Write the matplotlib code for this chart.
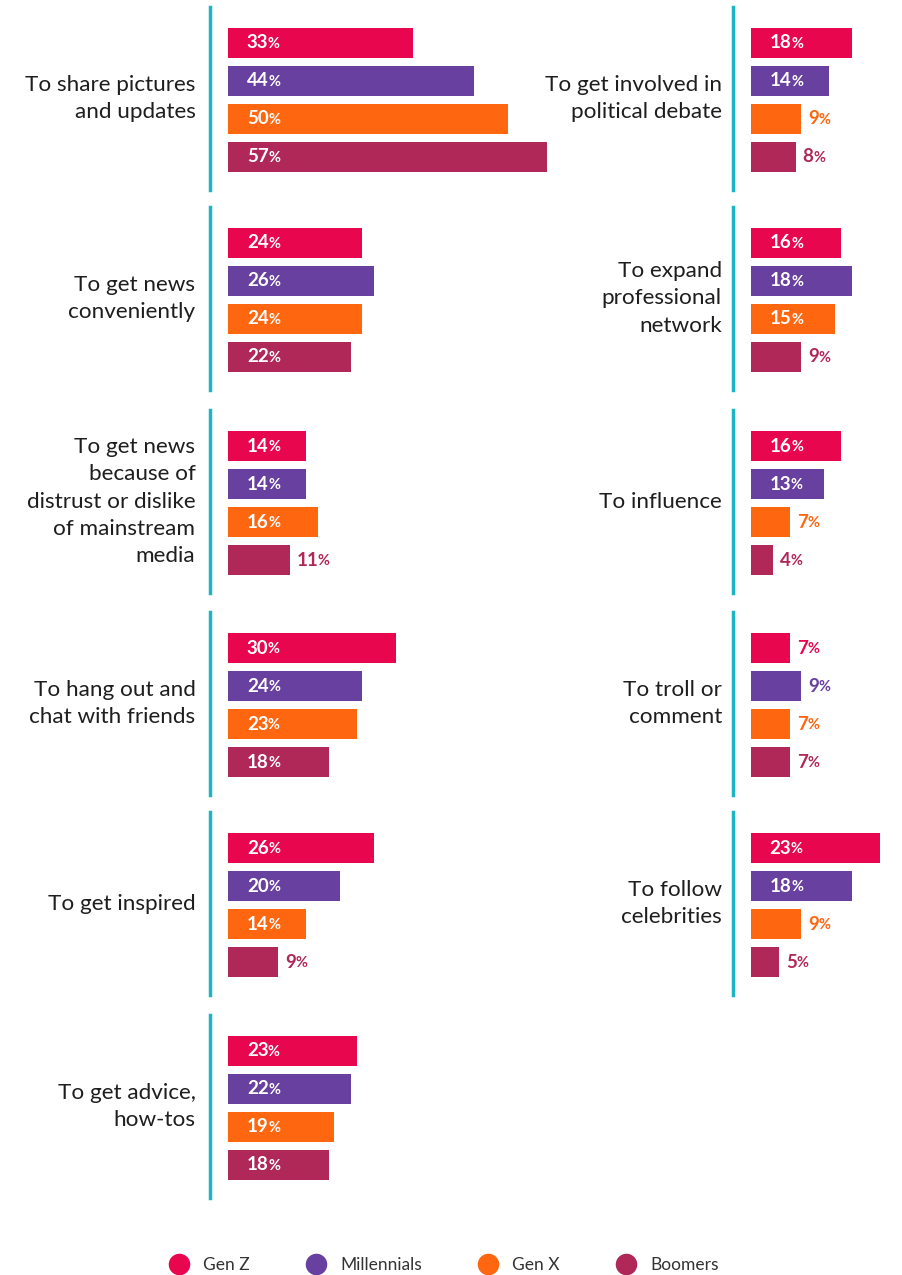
import matplotlib.pyplot as plt
from matplotlib.lines import Line2D

# share of respondents (%) by reason for using social media
cats_left = ["To share pictures\nand updates",
             "To get news\nconveniently",
             "To get news\nbecause of\ndistrust or dislike\nof mainstream\nmedia",
             "To hang out and\nchat with friends",
             "To get inspired",
             "To get advice,\nhow-tos"]
gen_z_left = [33, 24, 14, 30, 26, 23]
millennials_left = [44, 26, 14, 24, 20, 22]
gen_x_left = [50, 24, 16, 23, 14, 19]
boomers_left = [57, 22, 11, 18, 9, 18]

cats_right = ["To get involved in\npolitical debate",
              "To expand\nprofessional\nnetwork",
              "To influence",
              "To troll or\ncomment",
              "To follow\ncelebrities"]
gen_z_right = [18, 16, 16, 7, 23]
millennials_right = [14, 18, 13, 9, 18]
gen_x_right = [9, 15, 7, 7, 9]
boomers_right = [8, 9, 4, 7, 5]

gens = ["Gen Z", "Millennials", "Gen X", "Boomers"]
colors = ["#E8064F", "#6840A0", "#FF6610", "#B02858"]
teal = "#1CB5C6"

plt.rcParams['font.family'] = ['Lato', 'DejaVu Sans']

W, H = 902, 1275
fig = plt.figure(figsize=(W / 100, H / 100), dpi=100)

PX_PER_PCT = 5.6   # horizontal scale
GAP = 18           # px between divider line and bar start
GROUP_H = 183      # px height of a group
PITCH = 38         # px between bar centres
FIRST = 36         # px from group top to first bar centre
group_tops = [7, 207, 410, 612, 812, 1015]


def draw_group(x_line, top, width, label, values, label_pad):
    ax = fig.add_axes([x_line / W, 1 - (top + GROUP_H) / H, width / W, GROUP_H / H])
    ax.set_xlim(-GAP / PX_PER_PCT, (width - GAP) / PX_PER_PCT)
    ax.set_ylim((GROUP_H - FIRST) / PITCH, -FIRST / PITCH)
    ax.patch.set_alpha(0)
    for s in ["top", "right", "bottom"]:
        ax.spines[s].set_visible(False)
    ax.spines["left"].set_color(teal)
    ax.spines["left"].set_linewidth(2.5)
    ax.set_xticks([])
    ax.set_yticks([])

    ax.barh(range(4), values, height=30 / PITCH, color=colors, left=0)

    for i, v in enumerate(values):
        if v > 11:
            num = ax.annotate(str(v), xy=(0, i), xytext=(13.5, 0), textcoords="offset points",
                              ha="left", va="center", color="white",
                              fontsize=13.5, fontweight="bold")
            col = "white"
        else:
            num = ax.annotate(str(v), xy=(v, i), xytext=(5, 0), textcoords="offset points",
                              ha="left", va="center", color=colors[i],
                              fontsize=13.5, fontweight="bold")
            col = colors[i]
        ax.annotate("%", xy=(1, 0), xycoords=num, xytext=(-0.3, 0.3), textcoords="offset points",
                    ha="left", va="bottom", color=col, fontsize=10.5, fontweight="bold")

    ax.annotate(label, xy=(0, 0.5), xycoords="axes fraction", xytext=(-label_pad, 0),
                textcoords="offset points", ha="right", va="center", multialignment="right",
                fontsize=16.2, color="#1e1e1e", linespacing=1.45)


left_vals = list(zip(gen_z_left, millennials_left, gen_x_left, boomers_left))
for k, cat in enumerate(cats_left):
    draw_group(210, group_tops[k], 350, cat, left_vals[k], 10.5)

right_vals = list(zip(gen_z_right, millennials_right, gen_x_right, boomers_right))
for k, cat in enumerate(cats_right):
    draw_group(733, group_tops[k], 169, cat, right_vals[k], 8)

# legend along the bottom
handles = [Line2D([], [], marker="o", linestyle="", markersize=14.5, color=c) for c in colors]
fig.legend(handles, gens, loc="center", bbox_to_anchor=(440 / W, 1 - 1265 / H), ncol=4,
           frameon=False, fontsize=12.5, handletextpad=0.4, columnspacing=2.8,
           labelcolor="#333333")

plt.savefig("out.png", dpi=100)
